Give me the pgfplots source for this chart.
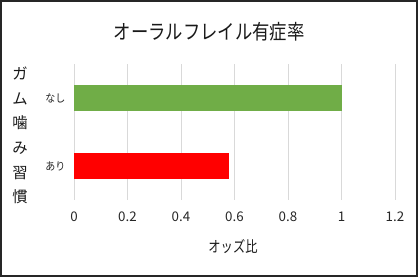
\documentclass[border=0pt]{standalone}
\usepackage{fontspec}
\setmainfont{Noto Sans CJK JP}
\usepackage{pgfplots}
\pgfplotsset{compat=1.18}
\definecolor{barGreen}{HTML}{70AD47}
\definecolor{barRed}{HTML}{FF0000}
\definecolor{gridGray}{HTML}{D9D9D9}
\begin{document}
\begin{tikzpicture}
\useasboundingbox (0,0) rectangle (313.5pt,207.75pt);
\draw[line width=1.2pt, black!85] (0.6pt,0.6pt) rectangle (312.9pt,207.15pt);
\begin{axis}[
  at={(55.5pt,57.75pt)}, anchor=south west,
  scale only axis, width=240.75pt, height=102pt,
  xbar, bar width=20pt,
  xmin=0, xmax=1.2, ymin=-0.5, ymax=1.5,
  xtick={0,0.2,0.4,0.6,0.8,1,1.2},
  ytick={0,1}, yticklabels={あり,なし},
  axis line style={draw=none}, major tick length=0pt,
  xmajorgrids, grid style={gridGray, line width=0.75pt},
  /pgf/number format/assume math mode=true,
  xticklabel style={font=\fontsize{10}{12}\selectfont, text=black!85, yshift=-5.5pt},
  yticklabel style={font=\fontsize{7.5}{9}\selectfont, text=black!85, xshift=-3pt, yscale=1.1},
  clip=false,
]
\addplot[fill=barRed, draw=none, bar shift=0pt] coordinates {(0.58,0)};
\addplot[fill=barGreen, draw=none, bar shift=0pt] coordinates {(1.0,1)};
\end{axis}
\node[font=\fontsize{13}{15}\selectfont, text=black!90, yscale=1.18, transform shape] at (156.75pt,183.75pt) {オーラルフレイル有症率};
\node[font=\fontsize{9.2}{11}\selectfont, text=black!90, yscale=1.25, transform shape] at (174.75pt,22.5pt) {オッズ比};
\node[font=\fontsize{11.5}{18.45}\selectfont, text=black!90, align=center] at (15pt,106.1pt) {ガ\\ム\\噛\\み\\習\\慣};
\end{tikzpicture}
\end{document}
